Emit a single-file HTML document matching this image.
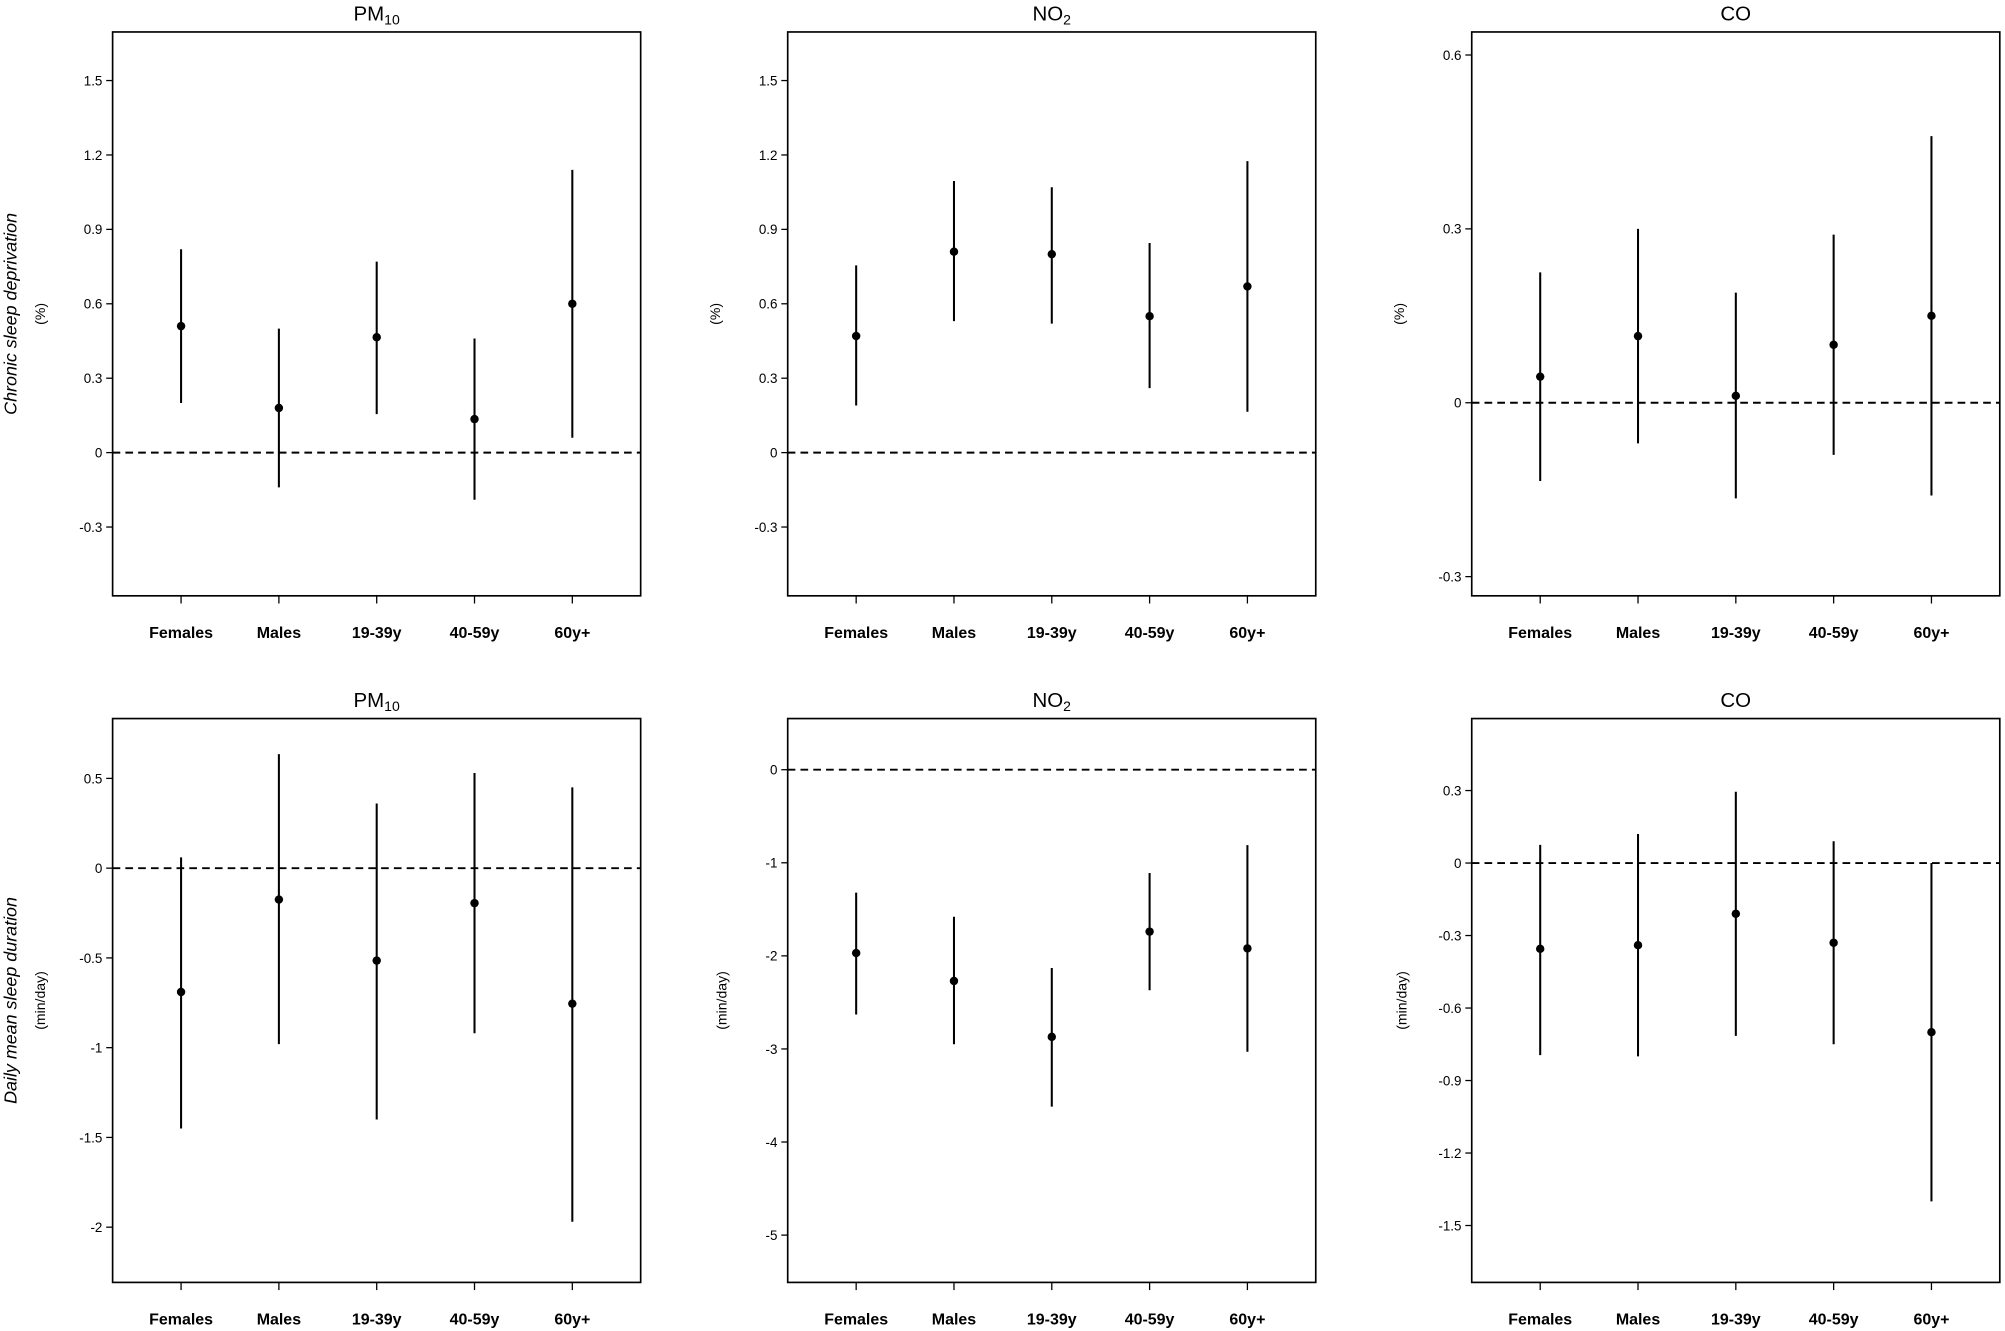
<!DOCTYPE html>
<html><head><meta charset="utf-8"><style>
html,body{margin:0;padding:0;background:#fff}
svg{display:block}
text{font-family:"Liberation Sans",Arial,sans-serif;fill:#000}
</style></head><body>
<svg id="fig" width="2005" height="1331" viewBox="0 0 1568 1041" xmlns="http://www.w3.org/2000/svg"></svg>
<script>
const categories = ["Females","Males","19-39y","40-59y","60y+"];
// panel 1: PM10, chronic sleep deprivation (%)
const pm10PctEst = [0.51,0.18,0.465,0.135,0.60];
const pm10PctLo  = [0.20,-0.14,0.155,-0.19,0.06];
const pm10PctHi  = [0.82,0.50,0.77,0.46,1.14];
// panel 2: NO2 (%)
const no2PctEst = [0.47,0.81,0.80,0.55,0.67];
const no2PctLo  = [0.19,0.53,0.52,0.26,0.165];
const no2PctHi  = [0.755,1.095,1.07,0.845,1.175];
// panel 3: CO (%)
const coPctEst = [0.045,0.115,0.012,0.10,0.15];
const coPctLo  = [-0.135,-0.07,-0.165,-0.09,-0.16];
const coPctHi  = [0.225,0.30,0.19,0.29,0.46];
// panel 4: PM10 (min/day)
const pm10MinEst = [-0.69,-0.175,-0.515,-0.195,-0.755];
const pm10MinLo  = [-1.45,-0.98,-1.40,-0.92,-1.97];
const pm10MinHi  = [0.06,0.635,0.36,0.53,0.45];
// panel 5: NO2 (min/day)
const no2MinEst = [-1.97,-2.27,-2.87,-1.74,-1.92];
const no2MinLo  = [-2.63,-2.95,-3.62,-2.37,-3.03];
const no2MinHi  = [-1.32,-1.58,-2.13,-1.11,-0.81];
// panel 6: CO (min/day)
const coMinEst = [-0.355,-0.34,-0.21,-0.33,-0.70];
const coMinLo  = [-0.795,-0.80,-0.715,-0.75,-1.40];
const coMinHi  = [0.075,0.12,0.295,0.09,0.0];
// tick labels
const ticksPct = ["-0.3","0","0.3","0.6","0.9","1.2","1.5"];
const ticksCoPct = ["-0.3","0","0.3","0.6"];
const ticksPm10Min = ["-2","-1.5","-1","-0.5","0","0.5"];
const ticksNo2Min = ["-5","-4","-3","-2","-1","0"];
const ticksCoMin = ["-1.5","-1.2","-0.9","-0.6","-0.3","0","0.3"];

const NS="http://www.w3.org/2000/svg";
const svg=document.getElementById('fig');
function mk(tag,attrs,parent){const e=document.createElementNS(NS,tag);for(const k in attrs)e.setAttribute(k,attrs[k]);(parent||svg).appendChild(e);return e;}

const panels=[
 {name:"pm10-pct",left:88,top:25,title:"PM",sub:"10",est:pm10PctEst,lo:pm10PctLo,hi:pm10PctHi,ticks:ticksPct,zero:354,ppu:194,ylab:"(%)",ylx:35,big:"Chronic sleep deprivation"},
 {name:"no2-pct",left:616,top:25,title:"NO",sub:"2",est:no2PctEst,lo:no2PctLo,hi:no2PctHi,ticks:ticksPct,zero:354,ppu:194,ylab:"(%)",ylx:563},
 {name:"co-pct",left:1151,top:25,title:"CO",sub:"",est:coPctEst,lo:coPctLo,hi:coPctHi,ticks:ticksCoPct,zero:315,ppu:453.3,ylab:"(%)",ylx:1098},
 {name:"pm10-min",left:88,top:562,title:"PM",sub:"10",est:pm10MinEst,lo:pm10MinLo,hi:pm10MinHi,ticks:ticksPm10Min,zero:679,ppu:140.4,ylab:"(min/day)",ylx:35,big:"Daily mean sleep duration"},
 {name:"no2-min",left:616,top:562,title:"NO",sub:"2",est:no2MinEst,lo:no2MinLo,hi:no2MinHi,ticks:ticksNo2Min,zero:602,ppu:72.8,ylab:"(min/day)",ylx:568},
 {name:"co-min",left:1151,top:562,title:"CO",sub:"",est:coMinEst,lo:coMinLo,hi:coMinHi,ticks:ticksCoMin,zero:675,ppu:189,ylab:"(min/day)",ylx:1100}
];
const W=413,H=441,unit=76.5;

panels.forEach(p=>{
  const g=mk('g',{});
  
  
  const ys=v=>p.zero - v*p.ppu;
  const xs=i=>p.left + (i+0.7)*unit;
  const bot=p.top+H;
  // title
  const t=mk('text',{x:p.left+W/2,y:p.top-9,'text-anchor':'middle','font-size':16},g);
  
  
  t.textContent=p.title;
  if(p.sub){const ts=mk('tspan',{'font-size':11,dy:3},t);ts.textContent=p.sub;}
  // zero line
  const z=mk('line',{x1:p.left,x2:p.left+W,y1:ys(0),y2:ys(0),stroke:'#000','stroke-width':1.5,'stroke-dasharray':'6,4'},g);
  
  
  // box
  const b=mk('rect',{x:p.left,y:p.top,width:W,height:H,fill:'none',stroke:'#000','stroke-width':1.3},g);
  
  
  // y ticks
  p.ticks.forEach(s=>{
    const v=parseFloat(s),y=ys(v);
    const tl=mk('line',{x1:p.left-5,x2:p.left,y1:y,y2:y,stroke:'#000','stroke-width':1},g);
    
    
    const tx=mk('text',{x:p.left-8,y:y+3.8,'text-anchor':'end','font-size':10.5},g);
    
    
    tx.textContent=s;
  });
  // y label
  const yl=mk('text',{x:p.ylx,y:p.top+H/2,'text-anchor':'middle','font-size':11,transform:`rotate(-90 ${p.ylx} ${p.top+H/2})`},g);
  
  
  yl.textContent=p.ylab;
  if(p.big){
    const bl=mk('text',{x:13,y:p.top+H/2,'text-anchor':'middle','font-size':14,'font-style':'italic',transform:`rotate(-90 13 ${p.top+H/2})`},g);
    
    
    bl.textContent=p.big;
  }
  categories.forEach((c,i)=>{
    const x=xs(i);
    const xt=mk('line',{x1:x,x2:x,y1:bot,y2:bot+6,stroke:'#000','stroke-width':1},g);
    
    
    const xl=mk('text',{x:x,y:bot+33,'text-anchor':'middle','font-size':12.5,'font-weight':'bold'},g);
    
    
    xl.textContent=c;
    const ci=mk('line',{x1:x,x2:x,y1:ys(p.lo[i]),y2:ys(p.hi[i]),stroke:'#000','stroke-width':1.6},g);
    
    
    const pt=mk('circle',{cx:x,cy:ys(p.est[i]),r:3.3,fill:'#000'},g);
    
    
  });
});
</script>
</body></html>
